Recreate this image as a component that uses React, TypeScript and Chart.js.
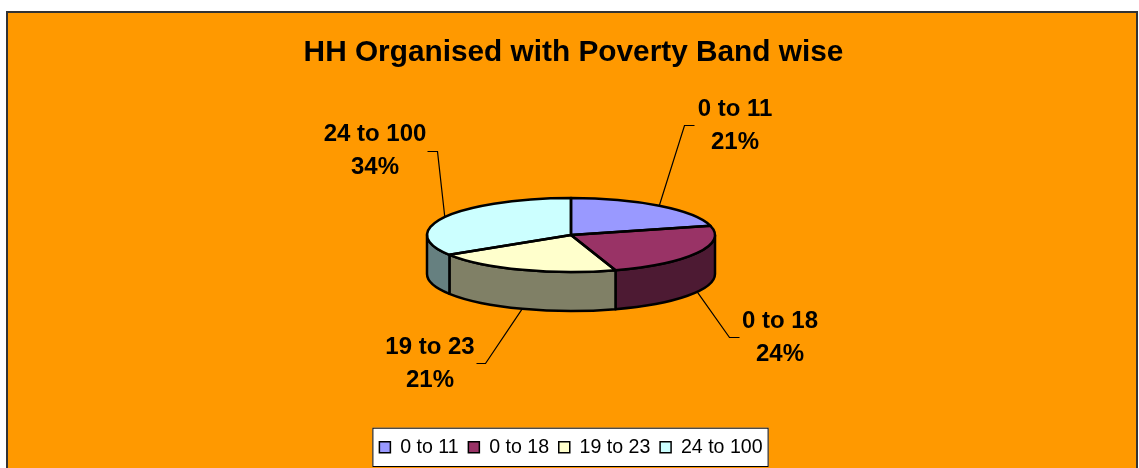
import React, { useEffect, useRef } from "react";
import { Chart, registerables } from "chart.js";

Chart.register(...registerables);

const categories = ["0 to 11", "0 to 18", "19 to 23", "24 to 100"];
const shares = [21, 24, 21, 34];
const topColors = ["#9999FF", "#993366", "#FFFFCC", "#CCFFFF"];
const sideColors = ["#4D4D80", "#4D1A33", "#808066", "#668080"];

const FONT = '"Liberation Sans", Arial, sans-serif';
const CENTER_Y = 235;
const RADIUS_X = 144;
const RADIUS_Y = 37;
const DEPTH = 39;

// Leader line: elbow offset from anchor, stub length, text centre offset from elbow
const callouts = [
  { elbow: [684, 125], end: [694, 125], text: [735, 109] },
  { elbow: [729, 337], end: [739, 337], text: [780, 321] },
  { elbow: [485, 363], end: [476, 363], text: [430, 347] },
  { elbow: [437, 151], end: [427, 151], text: [375, 134] },
];

const pie3d = {
  id: "pie3d",
  beforeDraw(chart: any) {
    const { ctx, width, height } = chart;
    ctx.save();
    ctx.fillStyle = "#FFFFFF";
    ctx.fillRect(0, 0, width, height);
    ctx.fillStyle = "#FF9900";
    ctx.fillRect(7, 12, 1130, height);
    ctx.strokeStyle = "#333333";
    ctx.lineWidth = 2;
    ctx.strokeRect(7, 12, 1130, height + 10);
    const boxes = chart.legend.legendHitBoxes;
    const l = boxes[0].left - 7;
    const last = boxes[boxes.length - 1];
    const r = last.left + last.width + 6;
    ctx.fillStyle = "#FFFFFF";
    ctx.fillRect(l, chart.legend.top, r - l, chart.legend.height);
    ctx.strokeStyle = "#000000";
    ctx.lineWidth = 1;
    ctx.strokeRect(l + 0.5, chart.legend.top + 0.5, r - l - 1, chart.legend.height - 1);
    ctx.restore();
  },
  afterLayout(chart: any) {
    chart.titleBlock.left += 5;
  },
  beforeDatasetsDraw(chart: any) {
    const { ctx } = chart;
    const arcs = chart.getDatasetMeta(0).data;
    ctx.save();
    arcs.forEach((arc: any, i: number) => {
      const a1 = Math.max(arc.startAngle, 0);
      const a2 = Math.min(arc.endAngle, Math.PI);
      if (a2 <= a1) return;
      ctx.beginPath();
      ctx.ellipse(arc.x, CENTER_Y, RADIUS_X, RADIUS_Y, 0, a1, a2);
      ctx.ellipse(arc.x, CENTER_Y + DEPTH, RADIUS_X, RADIUS_Y, 0, a2, a1, true);
      ctx.closePath();
      ctx.fillStyle = sideColors[i];
      ctx.fill();
      ctx.strokeStyle = "#000000";
      ctx.lineWidth = 2.5;
      ctx.lineJoin = "round";
      ctx.stroke();
    });
    ctx.restore();
    const cy = arcs[0].y;
    ctx.save();
    ctx.translate(0, CENTER_Y);
    ctx.scale(1, RADIUS_Y / RADIUS_X);
    ctx.translate(0, -cy);
  },
  afterDatasetsDraw(chart: any) {
    const { ctx } = chart;
    ctx.restore();
    const arcs = chart.getDatasetMeta(0).data;
    ctx.save();
    ctx.strokeStyle = "#000000";
    ctx.lineWidth = 2.5;
    ctx.lineJoin = "round";
    arcs.forEach((arc: any) => {
      ctx.beginPath();
      ctx.moveTo(arc.x, CENTER_Y);
      ctx.ellipse(arc.x, CENTER_Y, RADIUS_X, RADIUS_Y, 0, arc.startAngle, arc.endAngle);
      ctx.closePath();
      ctx.stroke();
    });
    ctx.restore();
  },
  afterDraw(chart: any) {
    const { ctx } = chart;
    const arcs = chart.getDatasetMeta(0).data;
    const total = shares.reduce((a, b) => a + b, 0);
    ctx.save();
    arcs.forEach((arc: any, i: number) => {
      const mid = (arc.startAngle + arc.endAngle) / 2;
      const c = callouts[i];
      const front = Math.sin(mid) > 0;
      const sx = arc.x + RADIUS_X * Math.cos(mid);
      const sy = CENTER_Y + RADIUS_Y * Math.sin(mid) + (front ? DEPTH : 0);
      ctx.beginPath();
      ctx.moveTo(sx, sy);
      ctx.lineTo(c.elbow[0] + 0.5, c.elbow[1] + 0.5);
      ctx.lineTo(c.end[0] + 0.5, c.end[1] + 0.5);
      ctx.strokeStyle = "#000000";
      ctx.lineWidth = 1.2;
      ctx.stroke();
      ctx.fillStyle = "#000000";
      ctx.font = `bold 24px ${FONT}`;
      ctx.textAlign = "center";
      ctx.textBaseline = "middle";
      ctx.fillText(categories[i], c.text[0], c.text[1]);
      ctx.fillText(`${Math.round((shares[i] / total) * 100)}%`, c.text[0], c.text[1] + 33);
    });
    ctx.restore();
  },
};

export default function App() {
  const ref = useRef<HTMLCanvasElement>(null);
  useEffect(() => {
    document.body.style.margin = "0";
    const chart = new Chart(ref.current!, {
      type: "pie",
      data: {
        labels: categories,
        datasets: [
          {
            data: shares,
            backgroundColor: topColors,
            borderWidth: 0,
            radius: RADIUS_X,
            clip: false,
          } as any,
        ],
      },
      options: {
        animation: false,
        responsive: false,
        layout: { padding: { left: 3, right: 0, top: 0, bottom: 1 } },
        plugins: {
          title: {
            display: true,
            text: "HH Organised with Poverty Band wise",
            color: "#000000",
            font: { family: FONT, size: 29.8, weight: "bold" },
            padding: { top: 35, bottom: 10 },
          },
          legend: {
            position: "bottom",
            labels: {
              color: "#000000",
              font: { family: FONT, size: 19.6 },
              boxWidth: 11,
              boxHeight: 11,
              padding: 9.7,
              generateLabels(c: any) {
                const items = (Chart as any).overrides.pie.plugins.legend.labels.generateLabels(c);
                return items.map((it: any) => ({ ...it, strokeStyle: "#000000", lineWidth: 1.5 }));
              },
            },
          },
          tooltip: { enabled: false },
        },
      },
      plugins: [pie3d],
    } as any);
    return () => chart.destroy();
  }, []);
  return <canvas ref={ref} width={1139} height={468} style={{ display: "block" }} />;
}
